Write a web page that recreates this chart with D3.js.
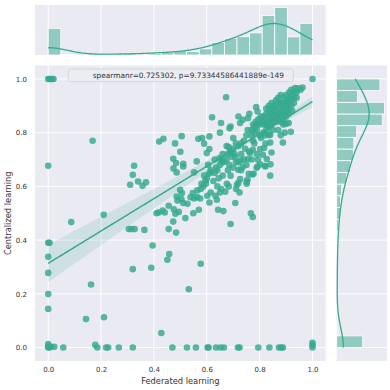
<!DOCTYPE html>
<html>
<head>
<meta charset="utf-8">
<script src="https://cdn.jsdelivr.net/npm/d3@7"></script>
<style>
  body { margin: 0; background: #fff; }
  text { font-family: "DejaVu Sans", sans-serif; fill: #333; }
</style>
</head>
<body>
<svg id="chart" width="390" height="390"></svg>
<script>
// [federated, centralized, how many points stacked there]
const edgePoints = [
  [0, 1, 16], [0.005, 1, 10], [0.01, 1, 7], [0.015, 1, 4], [0.02, 1, 3],
  [0, 0, 44], [0, 0.005, 6], [0, 0.013, 4], [0.005, 0, 6], [0.01, 0.003, 4],
  [1, 1, 118],
  [1, 0, 10], [1, 0.01, 1], [1, 0.018, 1]
];

const sparsePoints = [
  [0, 0.677], [0, 0.39], [0.005, 0.39], [0, 0.338], [0, 0.278], [0, 0.199], [0, 0.144], [0.023, 0.003],
  [0.057, 0], [0.087, 0.467],
  [0.143, 0.106], [0.162, 0.235], [0.168, 0.77], [0.178, 0.01], [0.186, 0],
  [0.21, 0.494], [0.211, 0.113], [0.219, 0], [0.227, 0], [0.267, 0],
  [0.325, 0.677], [0.32, 0.643], [0.31, 0.606], [0.305, 0.441], [0.315, 0.441], [0.327, 0.441], [0.32, 0.292], [0.32, 0],
  [0.34, 0.618], [0.357, 0.602], [0.37, 0.615], [0.364, 0.438],
  [0.395, 0.38], [0.39, 0.297], [0.41, 0.5], [0.418, 0.503], [0.42, 0.767], [0.428, 0.054],
  [0.433, 0.51], [0.441, 0.503], [0.456, 0.528], [0.473, 0.469], [0.456, 0.441], [0.458, 0.348],
  [0.451, 0.327], [0.47, 0], [0.436, 0.777], [0.473, 0.703], [0.474, 0.667], [0.475, 0.515],
  [0.481, 0.498], [0.494, 0.505], [0.519, 0.482], [0.486, 0.562], [0.504, 0.553], [0.489, 0.547],
  [0.499, 0.587], [0.506, 0.575], [0.511, 0.538], [0.484, 0.428], [0.486, 0.652], [0.484, 0.687],
  [0.511, 0.684], [0.48, 0.76], [0.5, 0.729], [0.505, 0.787], [0.511, 0.674],
  [0.525, 0], [0.559, 0], [0.532, 0.217], [0.527, 0.535], [0.539, 0.56], [0.552, 0.555], [0.564, 0.56],
  [0.547, 0.575], [0.564, 0.585], [0.549, 0.5], [0.57, 0.513], [0.562, 0.693], [0.552, 0.652], [0.568, 0.777],
  [0.577, 0.312], [0.587, 0.6], [0.597, 0.61], [0.595, 0.622], [0.61, 0.54], [0.602, 0.565], [0.615, 0.577],
  [0.577, 0.59], [0.575, 0.555], [0.582, 0.78], [0.61, 0.786], [0.59, 0.759], [0.61, 0.739], [0.6, 0.724],
  [0.613, 0.652], [0.608, 0.647], [0.603, 0], [0.607, 0], [0.6, 0.63, 2], [0.59, 0.64, 2], [0.615, 0.66, 2],
  [0.58, 0.61], [0.605, 0.68],
  [0.62, 0.857], [0.654, 0.836], [0.65, 0.8], [0.648, 0.705], [0.665, 0.692], [0.633, 0.565], [0.638, 0.55],
  [0.643, 0.513], [0.663, 0.508], [0.655, 0.59], [0.65, 0.577], [0.635, 0], [0.652, 0], [0.665, 0],
  [0.673, 0.932], [0.686, 0.816], [0.69, 0.823], [0.69, 0.726], [0.708, 0.709], [0.683, 0.746], [0.69, 0.46],
  [0.708, 0.538], [0.711, 0.59], [0.676, 0.61], [0.683, 0.6], [0.67, 0.58],
  [0.72, 0.86], [0.726, 0.836], [0.736, 0.848], [0.761, 0.87], [0.756, 0.854], [0.718, 0], [0.724, 0],
  [0.751, 0.617], [0.751, 0.61], [0.759, 0.647], [0.719, 0.612], [0.726, 0.627], [0.724, 0.577],
  [0.754, 0.625], [0.714, 0.606], [0.729, 0.696], [0.736, 0.672], [0.719, 0.662], [0.756, 0.702],
  [0.787, 0.895], [0.792, 0.879], [0.795, 0], [0.767, 0.5], [0.774, 0.486], [0.802, 0.682], [0.789, 0.669],
  [0.777, 0.647], [0.772, 0.644], [0.794, 0.699], [0.792, 0.674], [0.774, 0.736], [0.764, 0.724], [0.802, 0.739],
  [0.837, 0, 2], [0.841, 0.682], [0.84, 0.64], [0.84, 0.763], [0.835, 0.791], [0.822, 0.759], [0.827, 0.702],
  [0.822, 0.674], [0.84, 0.792], [0.845, 0.726], [0.817, 0.743], [0.82, 0.677], [0.812, 0.718],
  [0.873, 0], [0.882, 0], [0.888, 0], [0.888, 0.763], [0.89, 0.83], [0.9, 0.833], [0.895, 0.8],
  [0.934, 0.966], [0.91, 0.836], [0.918, 0.803], [0.962, 0.968]
];

// the dense blob near the upper right
const clusterPoints = [
  [0.86, 0.84, 8], [0.865, 0.86, 8], [0.86, 0.88, 8], [0.86, 0.9, 6], [0.862, 0.92, 4],
  [0.87, 0.85, 10], [0.872, 0.87, 10], [0.87, 0.89, 10], [0.873, 0.915, 8], [0.87, 0.93, 4],
  [0.88, 0.84, 6], [0.88, 0.86, 10], [0.882, 0.88, 10], [0.88, 0.9, 10], [0.883, 0.91, 8], [0.88, 0.94, 3],
  [0.89, 0.85, 6], [0.89, 0.87, 8], [0.892, 0.89, 10], [0.89, 0.91, 10], [0.893, 0.93, 6],
  [0.9, 0.86, 4], [0.9, 0.88, 6], [0.9, 0.9, 7], [0.902, 0.92, 6], [0.9, 0.94, 3],
  [0.87, 0.81, 2], [0.88, 0.79, 2],
  [0.815, 0.8, 4], [0.815, 0.83, 6], [0.815, 0.84, 6], [0.815, 0.86, 4],
  [0.825, 0.81, 4], [0.825, 0.83, 8], [0.825, 0.85, 10], [0.825, 0.87, 6], [0.825, 0.89, 4],
  [0.835, 0.82, 5], [0.835, 0.84, 10], [0.835, 0.86, 10], [0.835, 0.88, 8], [0.835, 0.9, 4],
  [0.845, 0.83, 6], [0.845, 0.85, 10], [0.845, 0.87, 10], [0.845, 0.89, 8], [0.845, 0.91, 4],
  [0.852, 0.84, 4], [0.852, 0.86, 6], [0.852, 0.88, 6], [0.852, 0.9, 4],
  [0.82, 0.79, 2], [0.85, 0.81, 3],
  [0.91, 0.89, 4], [0.91, 0.91, 8], [0.91, 0.93, 8], [0.912, 0.95, 3],
  [0.92, 0.9, 5], [0.92, 0.92, 8], [0.922, 0.94, 8], [0.92, 0.96, 2],
  [0.93, 0.91, 3], [0.93, 0.93, 6], [0.932, 0.95, 5],
  [0.94, 0.93, 3], [0.94, 0.95, 4], [0.945, 0.965, 2], [0.955, 0.96, 2],
  [0.923, 0.88, 2], [0.91, 0.87, 2],
  [0.77, 0.79, 6], [0.77, 0.81, 5], [0.775, 0.83, 3], [0.78, 0.8, 7], [0.78, 0.82, 5], [0.785, 0.84, 5],
  [0.79, 0.81, 6], [0.79, 0.83, 5], [0.795, 0.85, 6], [0.8, 0.83, 6], [0.8, 0.84, 5], [0.805, 0.86, 4],
  [0.775, 0.77, 4], [0.8, 0.79, 4], [0.78, 0.76, 2], [0.79, 0.72, 2], [0.77, 0.7, 2], [0.805, 0.78, 2],
  [0.72, 0.75, 8], [0.73, 0.76, 8], [0.74, 0.77, 8], [0.75, 0.79, 8], [0.755, 0.81, 5], [0.745, 0.74, 5],
  [0.73, 0.72, 4], [0.74, 0.7, 3], [0.75, 0.68, 3], [0.73, 0.66, 2], [0.76, 0.73, 3], [0.72, 0.69, 2],
  [0.68, 0.72, 6], [0.69, 0.73, 6], [0.7, 0.74, 6], [0.71, 0.76, 5], [0.675, 0.7, 5], [0.695, 0.71, 5],
  [0.705, 0.72, 4], [0.68, 0.66, 3], [0.7, 0.67, 3], [0.69, 0.64, 2], [0.71, 0.69, 3], [0.685, 0.68, 3],
  [0.7, 0.78, 3], [0.675, 0.75, 3],
  [0.63, 0.65, 4], [0.64, 0.66, 4], [0.65, 0.68, 4], [0.66, 0.69, 4], [0.645, 0.63, 3], [0.655, 0.7, 3],
  [0.635, 0.67, 3], [0.625, 0.62, 3], [0.66, 0.64, 3], [0.64, 0.6, 2], [0.66, 0.72, 3], [0.63, 0.7, 2]
];

const tickValues = [0, 0.2, 0.4, 0.6, 0.8, 1.0];
const xLabel = 'Federated learning';
const yLabel = 'Centralized learning';
const statText = 'spearmanr=0.725302, p=9.73344586441889e-149';
const xBinCount = 21;
const yBinCount = 23;

const teal = '#35aa8e';
const panel = '#eaeaf2';

const mainBox = {left: 35, right: 325.7, top: 65.5, bottom: 361};
const topBox = {top: 5, bottom: 55};
const rightBox = {left: 336.7, right: 387};

const pts = [...edgePoints, ...sparsePoints, ...clusterPoints]
  .map(p => ({x: p[0], y: p[1], n: p[2] || 1}));
const N = d3.sum(pts, d => d.n);

const svg = d3.select('#chart');

const x = d3.scaleLinear().domain([-0.05, 1.05]).range([mainBox.left, mainBox.right]);
const y = d3.scaleLinear().domain([-0.05, 1.05]).range([mainBox.bottom, mainBox.top]);

// panels
svg.append('rect').attr('x', mainBox.left).attr('y', mainBox.top)
  .attr('width', mainBox.right - mainBox.left).attr('height', mainBox.bottom - mainBox.top).attr('fill', panel);
svg.append('rect').attr('x', mainBox.left).attr('y', topBox.top)
  .attr('width', mainBox.right - mainBox.left).attr('height', topBox.bottom - topBox.top).attr('fill', panel);
svg.append('rect').attr('x', rightBox.left).attr('y', mainBox.top)
  .attr('width', rightBox.right - rightBox.left).attr('height', mainBox.bottom - mainBox.top).attr('fill', panel);

// grid
const grid = svg.append('g').attr('stroke', '#fff').attr('stroke-width', 1);
tickValues.forEach(t => {
  grid.append('line').attr('x1', x(t)).attr('x2', x(t)).attr('y1', mainBox.top).attr('y2', mainBox.bottom);
  grid.append('line').attr('x1', x(t)).attr('x2', x(t)).attr('y1', topBox.top).attr('y2', topBox.bottom);
  grid.append('line').attr('y1', y(t)).attr('y2', y(t)).attr('x1', mainBox.left).attr('x2', mainBox.right);
  grid.append('line').attr('y1', y(t)).attr('y2', y(t)).attr('x1', rightBox.left).attr('x2', rightBox.right);
});

// axes
const fmt = d3.format('.1f');
svg.append('g').attr('transform', `translate(0,${mainBox.bottom})`)
  .call(d3.axisBottom(x).tickValues(tickValues).tickFormat(fmt).tickSize(0).tickPadding(6))
  .call(g => g.select('.domain').remove())
  .selectAll('text').style('font-size', '7px').attr('fill', '#333');
svg.append('g').attr('transform', `translate(${mainBox.left},0)`)
  .call(d3.axisLeft(y).tickValues(tickValues).tickFormat(fmt).tickSize(0).tickPadding(8))
  .call(g => g.select('.domain').remove())
  .selectAll('text').style('font-size', '7px').attr('fill', '#333');

svg.append('text').attr('x', (mainBox.left + mainBox.right) / 2).attr('y', 384)
  .attr('text-anchor', 'middle').style('font-size', '8.3px').text(xLabel);
svg.append('text').attr('transform', `translate(10.5,${(mainBox.top + mainBox.bottom) / 2}) rotate(-90)`)
  .attr('text-anchor', 'middle').style('font-size', '8.3px').text(yLabel);

// regression with a robust (bootstrap-like) confidence band
const mx = d3.sum(pts, d => d.n * d.x) / N;
const my = d3.sum(pts, d => d.n * d.y) / N;
const sxx = d3.sum(pts, d => d.n * (d.x - mx) ** 2);
const sxy = d3.sum(pts, d => d.n * (d.x - mx) * (d.y - my));
const slope = sxy / sxx;
const intercept = my - slope * mx;
const xMin = d3.min(pts, d => d.x), xMax = d3.max(pts, d => d.x);
const lineGrid = d3.range(0, 101).map(i => xMin + (xMax - xMin) * i / 100);
const band = lineGrid.map(g => {
  const fit = intercept + slope * g;
  const v = d3.sum(pts, d => {
    const e = d.y - (intercept + slope * d.x);
    const a = 1 / N + (g - mx) * (d.x - mx) / sxx;
    return d.n * e * e * a * a;
  });
  const se = Math.sqrt(v);
  return {x: g, fit, lo: fit - 1.96 * se, hi: fit + 1.96 * se};
});

svg.append('clipPath').attr('id', 'mainClip').append('rect')
  .attr('x', mainBox.left).attr('y', mainBox.top)
  .attr('width', mainBox.right - mainBox.left).attr('height', mainBox.bottom - mainBox.top);
const plot = svg.append('g').attr('clip-path', 'url(#mainClip)');

plot.append('g').selectAll('circle').data(pts).join('circle')
  .attr('cx', d => x(d.x)).attr('cy', d => y(d.y)).attr('r', 3.3)
  .attr('fill', teal).attr('fill-opacity', 0.82);

plot.append('path').datum(band)
  .attr('d', d3.area().x(d => x(d.x)).y0(d => y(d.lo)).y1(d => y(d.hi)))
  .attr('fill', teal).attr('fill-opacity', 0.15);
plot.append('path').datum(band)
  .attr('d', d3.line().x(d => x(d.x)).y(d => y(d.fit)))
  .attr('fill', 'none').attr('stroke', teal).attr('stroke-width', 1.5);

// stat box
svg.append('rect').attr('x', 68.3).attr('y', 69).attr('width', 225).attr('height', 12.7).attr('rx', 2)
  .attr('fill', '#ececf3').attr('stroke', '#cfcfd6').attr('stroke-width', 0.8);
svg.append('text').attr('x', 92.7).attr('y', 78.2).style('font-size', '7.4px').text(statText);

// marginal histograms with kde
function weightedBins(acc, nb) {
  const bins = d3.bin().value(acc).domain([0, 1])
    .thresholds(d3.range(1, nb).map(i => i / nb))(pts);
  bins.forEach(b => { b.count = d3.sum(b, d => d.n); });
  return bins;
}
function kde(acc, nb) {
  const mean = d3.sum(pts, d => d.n * acc(d)) / N;
  const sd = Math.sqrt(d3.sum(pts, d => d.n * (acc(d) - mean) ** 2) / (N - 1));
  const h = sd * Math.pow(N, -0.2);
  const lo = d3.min(pts, acc), hi = d3.max(pts, acc);
  return d3.range(0, 201).map(i => {
    const g = lo + (hi - lo) * i / 200;
    const dens = d3.sum(pts, d => d.n * Math.exp(-0.5 * ((g - acc(d)) / h) ** 2)) / (N * h * Math.sqrt(2 * Math.PI));
    return [g, dens * N / nb];
  });
}

const xBins = weightedBins(d => d.x, xBinCount);
const xKde = kde(d => d.x, xBinCount);
const topCount = d3.scaleLinear()
  .domain([0, 1.05 * Math.max(d3.max(xBins, b => b.count), d3.max(xKde, k => k[1]))])
  .range([topBox.bottom, topBox.top]);
svg.append('g').selectAll('rect').data(xBins).join('rect')
  .attr('x', b => x(b.x0)).attr('width', b => x(b.x1) - x(b.x0))
  .attr('y', b => topCount(b.count)).attr('height', b => topBox.bottom - topCount(b.count))
  .attr('fill', teal).attr('fill-opacity', 0.5).attr('stroke', '#fff').attr('stroke-width', 0.8);
svg.append('path').datum(xKde)
  .attr('d', d3.line().x(k => x(k[0])).y(k => topCount(k[1])))
  .attr('fill', 'none').attr('stroke', teal).attr('stroke-width', 1.3);

const yBins = weightedBins(d => d.y, yBinCount);
const yKde = kde(d => d.y, yBinCount);
const rightCount = d3.scaleLinear()
  .domain([0, 1.05 * Math.max(d3.max(yBins, b => b.count), d3.max(yKde, k => k[1]))])
  .range([rightBox.left, rightBox.right]);
svg.append('g').selectAll('rect').data(yBins).join('rect')
  .attr('y', b => y(b.x1)).attr('height', b => y(b.x0) - y(b.x1))
  .attr('x', rightBox.left).attr('width', b => rightCount(b.count) - rightBox.left)
  .attr('fill', teal).attr('fill-opacity', 0.5).attr('stroke', '#fff').attr('stroke-width', 0.8);
svg.append('path').datum(yKde)
  .attr('d', d3.line().y(k => y(k[0])).x(k => rightCount(k[1])))
  .attr('fill', 'none').attr('stroke', teal).attr('stroke-width', 1.3);
</script>
</body>
</html>
